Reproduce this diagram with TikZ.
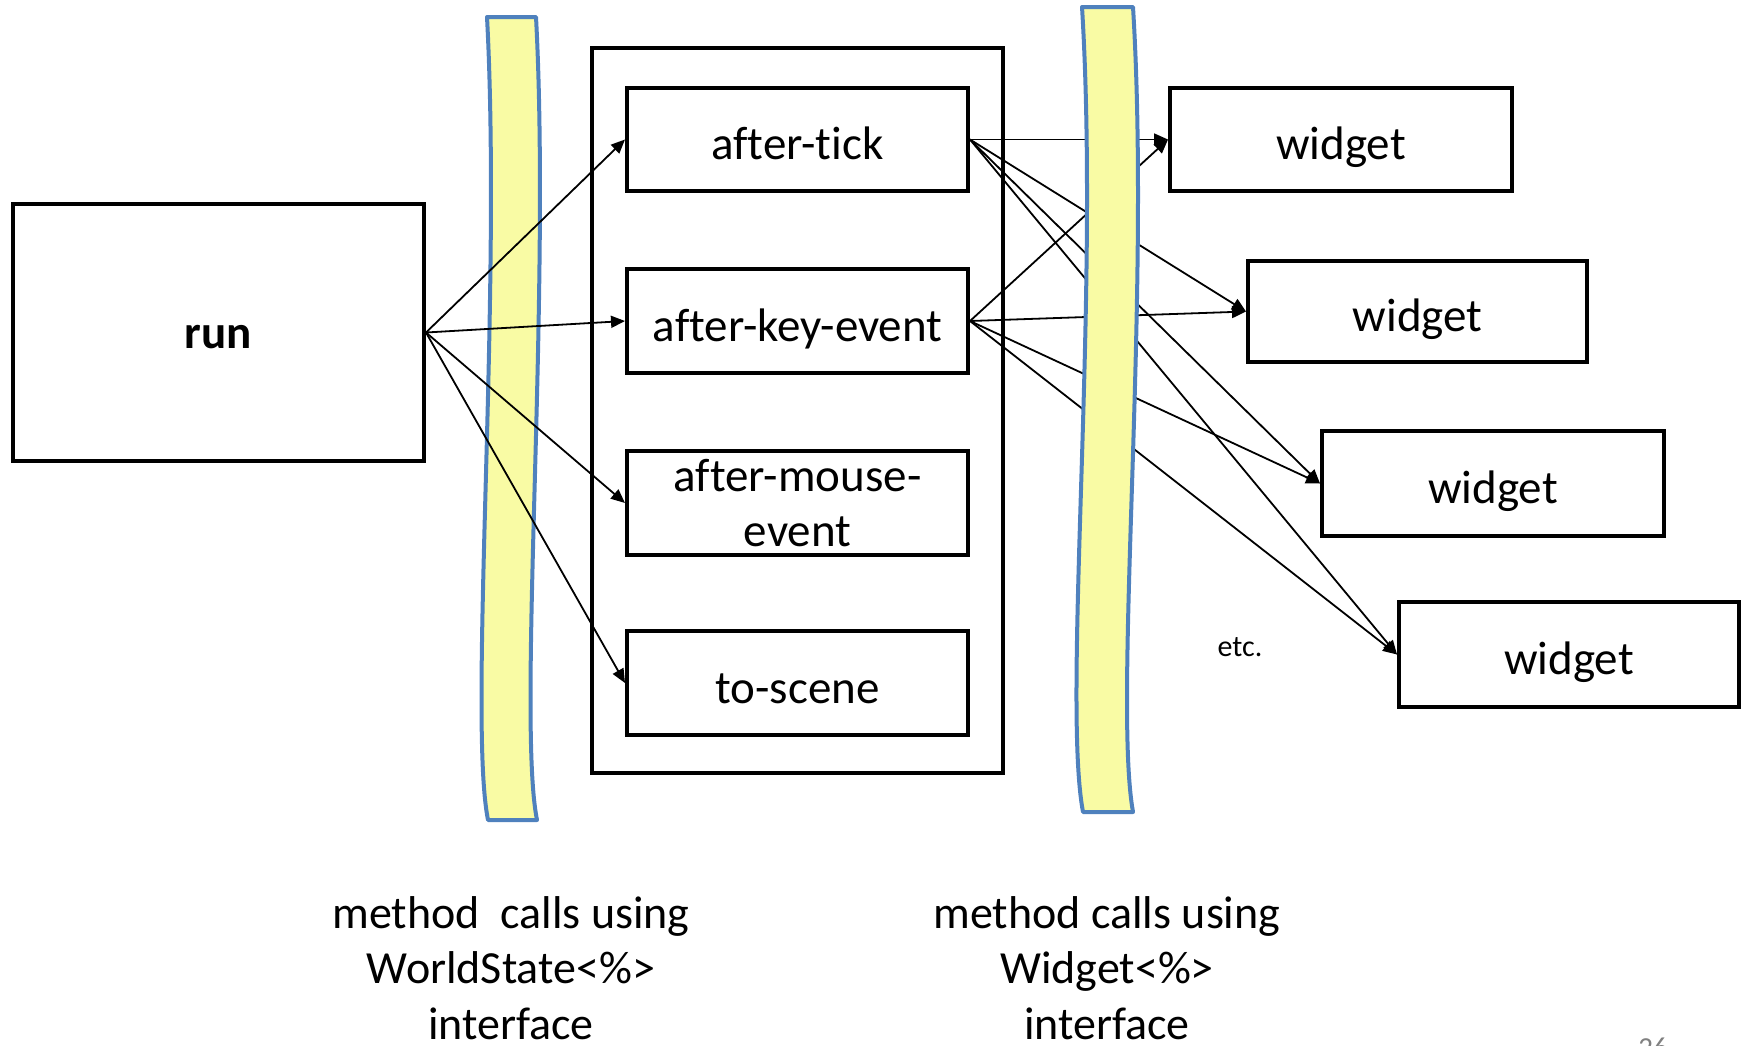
\documentclass[tikz,border=0pt]{standalone}
\usepackage{fontspec}
\setmainfont{Carlito}[Ligatures=NoCommon]
\usetikzlibrary{arrows.meta}
\definecolor{bandfill}{RGB}{249,251,164}
\definecolor{bandline}{RGB}{79,129,189}

\begin{document}
\begin{tikzpicture}[x=1pt, y=-1pt, >={Triangle[length=14pt, width=12pt]}, box/.style={rectangle, draw=black, line width=4pt, minimum width=#1, inner sep=0pt, node font=\fontsize{47}{55.6}\selectfont, align=center}, box/.default=341pt, oneline/.style={text height=40pt, text depth=0pt}, wire/.style={->, line width=1.8pt}, band/.style={draw=bandline, fill=bandfill, line width=4pt, line join=round}, caption/.style={node font=\fontsize{46}{55.6}\selectfont, align=center}]

\useasboundingbox (0,0) rectangle (1742,1045);

\path[band] (487,17) .. controls (502,300) and (468,720) .. (488,820) -- (537,820) .. controls (517,720) and (551,300) .. (536,17) -- cycle;

\node [box=411pt, minimum height=257pt, oneline, text height=31pt] (RUN) at (218.5,332.5) {\textbf{run}};
\node [box=411pt, minimum height=725pt] (WORLD) at (797.5,410.5) {};
\node [box, oneline, minimum height=103pt] (TICK) at (797.5,139.5) {after-tick};
\node [box, oneline, minimum height=104pt] (KEY) at (797.5,321) {after-key-event};
\node [box, minimum height=104pt] (MOUSE) at (797.5,503) {after-mouse-\\event};
\node [box, oneline, minimum height=104pt] (SCENE) at (797.5,683) {to-scene};
\node [box=342pt, oneline, minimum height=103pt] (W1) at (1341,139.5) {widget};
\node [box=339pt, oneline, minimum height=101pt] (W2) at (1417.5,311.5) {widget};
\node [box=342pt, oneline, minimum height=105pt] (W3) at (1493,483.5) {widget};
\node [box=340pt, oneline, minimum height=105pt] (W4) at (1569,654.5) {widget};
\node [font=\fontsize{30}{36}\selectfont] (ETC) at (1240,647) {etc.};

\draw[wire] (RUN.east) -- (TICK.west);
\draw[wire] (RUN.east) -- (KEY.west);
\draw[wire] (RUN.east) -- (MOUSE.west);
\draw[wire] (RUN.east) -- (SCENE.west);
\draw[wire] (TICK.east) -- (W1.west);
\draw[wire] (TICK.east) -- (W2.west);
\draw[wire] (TICK.east) -- (W3.west);
\draw[wire] (TICK.east) -- (W4.west);
\draw[wire] (KEY.east) -- (W1.west);
\draw[wire] (KEY.east) -- (W2.west);
\draw[wire] (KEY.east) -- (W3.west);
\draw[wire] (KEY.east) -- (W4.west);

\path[band] (1082,7) .. controls (1100,300) and (1062,700) .. (1083,812) -- (1133,812) .. controls (1113,700) and (1151,300) .. (1133,7) -- cycle;

\node [caption] (LEFTNOTE) at (511,968) {method\ \ calls using\\WorldState<\%>\\interface};
\node [caption] (RIGHTNOTE) at (1107,968) {method calls using\\Widget<\%>\\interface};
\node [anchor=north, inner sep=0pt, text=gray, font=\fontsize{29}{35}\selectfont] (PAGENO) at (1653,1038) {26};

\end{tikzpicture}
\end{document}
